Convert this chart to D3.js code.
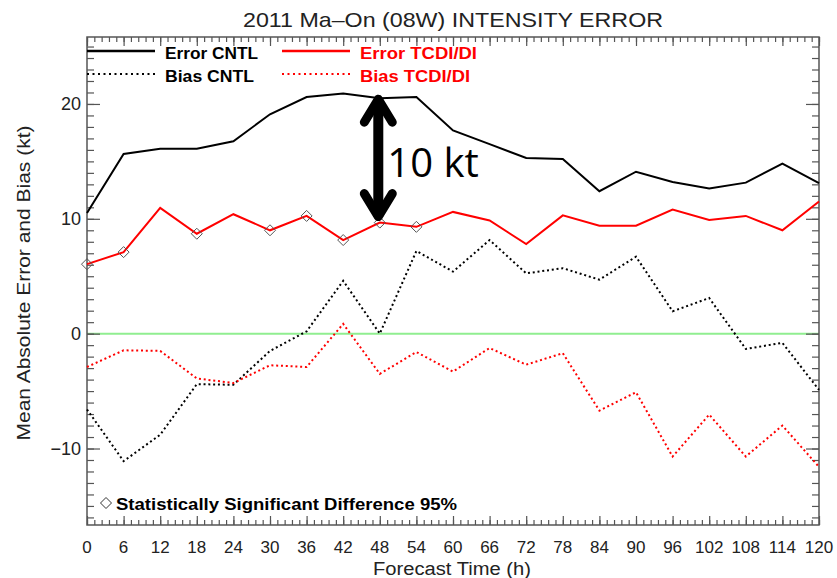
<!DOCTYPE html>
<html>
<head>
<meta charset="utf-8">
<script src="https://cdn.jsdelivr.net/npm/d3@7"></script>
<style>
  body { margin: 0; background: #fff; }
  svg { display: block; font-family: "Liberation Sans", Arial, sans-serif; }
</style>
</head>
<body>
<div class="canvas"></div>
<script>
// forecast hours
const hours = [0, 6, 12, 18, 24, 30, 36, 42, 48, 54, 60, 66, 72, 78, 84, 90, 96, 102, 108, 114, 120];

// series (kt)
const errorCntl = [10.5, 15.65, 16.1, 16.1, 16.75, 19.1, 20.6, 20.9, 20.5, 20.6, 17.7, 16.5, 15.3, 15.2, 12.4, 14.1, 13.2, 12.65, 13.15, 14.8, 13.1];
const errorTcdi = [6.05, 7.1, 10.95, 8.7, 10.4, 9.0, 10.25, 8.15, 9.67, 9.3, 10.6, 9.85, 7.8, 10.3, 9.4, 9.4, 10.8, 9.9, 10.25, 9.0, 11.5];
const biasCntl = [-6.6, -11.1, -8.8, -4.4, -4.45, -1.5, 0.2, 4.6, 0.0, 7.2, 5.4, 8.15, 5.25, 5.7, 4.7, 6.7, 1.95, 3.1, -1.33, -0.8, -4.9];
const biasTcdi = [-2.9, -1.45, -1.5, -3.9, -4.3, -2.75, -2.9, 0.85, -3.5, -1.6, -3.3, -1.25, -2.7, -1.7, -6.7, -5.1, -10.7, -7.05, -10.7, -8.0, -11.6];

// hours where the difference is significant (95%)
const significant = [0, 6, 18, 30, 36, 42, 48, 54];

const xTicks = hours;
const yTicks = [-10, 0, 10, 20];

const dims = { width: 837, height: 578 };
const plot = { left: 87, right: 819, top: 37, bottom: 525 };

const svg = d3.select('.canvas')
    .append('svg')
    .attr('width', dims.width)
    .attr('height', dims.height);

const x = d3.scaleLinear().domain([0, 120]).range([plot.left, plot.right]);
const y = d3.scaleLinear().domain([-16.66, 25.83]).range([plot.bottom, plot.top]);

const axisColor = '#555';

// title
svg.append('text')
    .attr('x', 453).attr('y', 27)
    .attr('text-anchor', 'middle')
    .attr('font-size', 21)
    .attr('fill', '#222')
    .attr('textLength', 420).attr('lengthAdjust', 'spacingAndGlyphs')
    .text('2011 Ma\u2013On (08W) INTENSITY ERROR');

// zero line
svg.append('line')
    .attr('x1', x(0)).attr('x2', x(120))
    .attr('y1', y(0)).attr('y2', y(0))
    .attr('stroke', '#90ee90')
    .attr('stroke-width', 2);

// axes (bottom, top, left, right) - minor ticks first
const xMinor = d3.range(0, 120.01, 1.2);
const yMinor = d3.range(-16, 26, 1);

const gBottom = svg.append('g').attr('transform', `translate(0,${plot.bottom})`);
gBottom.call(d3.axisTop(x).tickValues(xMinor).tickSize(5).tickFormat(''));
gBottom.call(g => g.append('g').call(d3.axisTop(x).tickValues(xTicks).tickSize(9).tickFormat('')));

const gTop = svg.append('g').attr('transform', `translate(0,${plot.top})`);
gTop.call(d3.axisBottom(x).tickValues(xMinor).tickSize(5).tickFormat(''));
gTop.call(g => g.append('g').call(d3.axisBottom(x).tickValues(xTicks).tickSize(9).tickFormat('')));

const gLeft = svg.append('g').attr('transform', `translate(${plot.left},0)`);
gLeft.call(d3.axisRight(y).tickValues(yMinor).tickSize(7).tickFormat(''));
gLeft.call(g => g.append('g').call(d3.axisRight(y).tickValues(yTicks).tickSize(13).tickFormat('')));

const gRight = svg.append('g').attr('transform', `translate(${plot.right},0)`);
gRight.call(d3.axisLeft(y).tickValues(yMinor).tickSize(7).tickFormat(''));
gRight.call(g => g.append('g').call(d3.axisLeft(y).tickValues(yTicks).tickSize(13).tickFormat('')));

svg.selectAll('.domain').remove();
svg.selectAll('.tick line').attr('stroke', axisColor).attr('stroke-width', 1.2);

svg.append('rect')
    .attr('x', plot.left).attr('y', plot.top)
    .attr('width', plot.right - plot.left)
    .attr('height', plot.bottom - plot.top)
    .attr('fill', 'none')
    .attr('stroke', axisColor)
    .attr('stroke-width', 1.5);

// tick labels
svg.append('g').selectAll('text')
    .data(xTicks).enter().append('text')
    .attr('x', d => x(d)).attr('y', 553)
    .attr('text-anchor', 'middle')
    .attr('font-size', 17)
    .attr('fill', '#222')
    .text(d => d);

svg.append('g').selectAll('text')
    .data(yTicks).enter().append('text')
    .attr('x', 81).attr('y', d => y(d) + 6.5)
    .attr('text-anchor', 'end')
    .attr('font-size', 18)
    .attr('fill', '#222')
    .text(d => d < 0 ? '\u2212' + Math.abs(d) : d);

// axis titles
svg.append('text')
    .attr('x', 452).attr('y', 575)
    .attr('text-anchor', 'middle')
    .attr('font-size', 18)
    .attr('fill', '#222')
    .attr('textLength', 158).attr('lengthAdjust', 'spacingAndGlyphs')
    .text('Forecast Time (h)');

svg.append('text')
    .attr('transform', 'translate(30,283) rotate(-90)')
    .attr('text-anchor', 'middle')
    .attr('font-size', 18)
    .attr('fill', '#222')
    .attr('textLength', 315).attr('lengthAdjust', 'spacingAndGlyphs')
    .text('Mean Absolute Error and Bias (kt)');

// lines
const line = d3.line()
    .x((d, i) => x(hours[i]))
    .y(d => y(d));

const series = [
    { name: 'Error CNTL', values: errorCntl, color: '#000', dash: null },
    { name: 'Error TCDI/DI', values: errorTcdi, color: '#ff0000', dash: null },
    { name: 'Bias CNTL', values: biasCntl, color: '#000', dash: '2,2.8' },
    { name: 'Bias TCDI/DI', values: biasTcdi, color: '#ff0000', dash: '2,2.8' }
];

svg.append('g').selectAll('path')
    .data(series).enter().append('path')
    .attr('d', d => line(d.values))
    .attr('fill', 'none')
    .attr('stroke', d => d.color)
    .attr('stroke-width', 2)
    .attr('stroke-dasharray', d => d.dash);

// significance diamonds
const diamond = (cx, cy, r) => `M${cx},${cy - r}L${cx + r},${cy}L${cx},${cy + r}L${cx - r},${cy}Z`;

svg.append('g').selectAll('path')
    .data(significant).enter().append('path')
    .attr('d', h => diamond(x(h), y(errorTcdi[hours.indexOf(h)]), 5.5))
    .attr('fill', 'none')
    .attr('stroke', '#555')
    .attr('stroke-width', 1);

// legend
const legend = [
    { name: 'Error CNTL', color: '#000', dash: null, lx: 87, tx: 165, ty: 59, w: 93 },
    { name: 'Bias CNTL', color: '#000', dash: '2,3.5', lx: 87, tx: 165, ty: 82, w: 89 },
    { name: 'Error TCDI/DI', color: '#ff0000', dash: null, lx: 282, tx: 360, ty: 59, w: 117 },
    { name: 'Bias TCDI/DI', color: '#ff0000', dash: '2,3.5', lx: 282, tx: 360, ty: 82, w: 110 }
];

const legendGroup = svg.append('g');
legendGroup.selectAll('line')
    .data(legend).enter().append('line')
    .attr('x1', d => d.lx).attr('x2', d => d.lx + 68)
    .attr('y1', d => d.ty - 8).attr('y2', d => d.ty - 8)
    .attr('stroke', d => d.color)
    .attr('stroke-width', d => d.dash ? 2 : 2.5)
    .attr('stroke-dasharray', d => d.dash);

legendGroup.selectAll('text')
    .data(legend).enter().append('text')
    .attr('x', d => d.tx).attr('y', d => d.ty)
    .attr('font-size', 16)
    .attr('font-weight', 'bold')
    .attr('fill', d => d.color)
    .attr('textLength', d => d.w).attr('lengthAdjust', 'spacingAndGlyphs')
    .text(d => d.name);

// significance note
svg.append('path')
    .attr('d', diamond(106, 503, 5.5))
    .attr('fill', 'none')
    .attr('stroke', '#333')
    .attr('stroke-width', 1);

svg.append('text')
    .attr('x', 116).attr('y', 510)
    .attr('font-size', 16)
    .attr('font-weight', 'bold')
    .attr('fill', '#000')
    .attr('textLength', 341).attr('lengthAdjust', 'spacingAndGlyphs')
    .text('Statistically Significant Difference 95%');

// 10 kt annotation arrow between the two error curves at 48 h
const ax = x(48) - 1.5;
const yTopTip = y(errorCntl[8]) - 3;
const yBotTip = y(errorTcdi[8]) - 2;

const arrow = svg.append('g')
    .attr('stroke', '#000')
    .attr('stroke-linecap', 'round')
    .attr('stroke-linejoin', 'round')
    .attr('fill', 'none');

arrow.append('line')
    .attr('x1', ax).attr('x2', ax)
    .attr('y1', yTopTip + 4).attr('y2', yBotTip - 4)
    .attr('stroke-width', 10)
    .attr('stroke-linecap', 'butt');

arrow.append('path')
    .attr('d', `M${ax - 14},${yTopTip + 27}L${ax},${yTopTip + 4}L${ax + 14},${yTopTip + 27}`)
    .attr('stroke-width', 9);

arrow.append('path')
    .attr('d', `M${ax - 14},${yBotTip - 27}L${ax},${yBotTip - 4}L${ax + 14},${yBotTip - 27}`)
    .attr('stroke-width', 9);

svg.append('text')
    .attr('x', ax + 9).attr('y', 177)
    .attr('font-family', '"Open Sans", sans-serif')
    .attr('font-size', 40)
    .attr('fill', '#000')
    .text('10 kt');
</script>
</body>
</html>
